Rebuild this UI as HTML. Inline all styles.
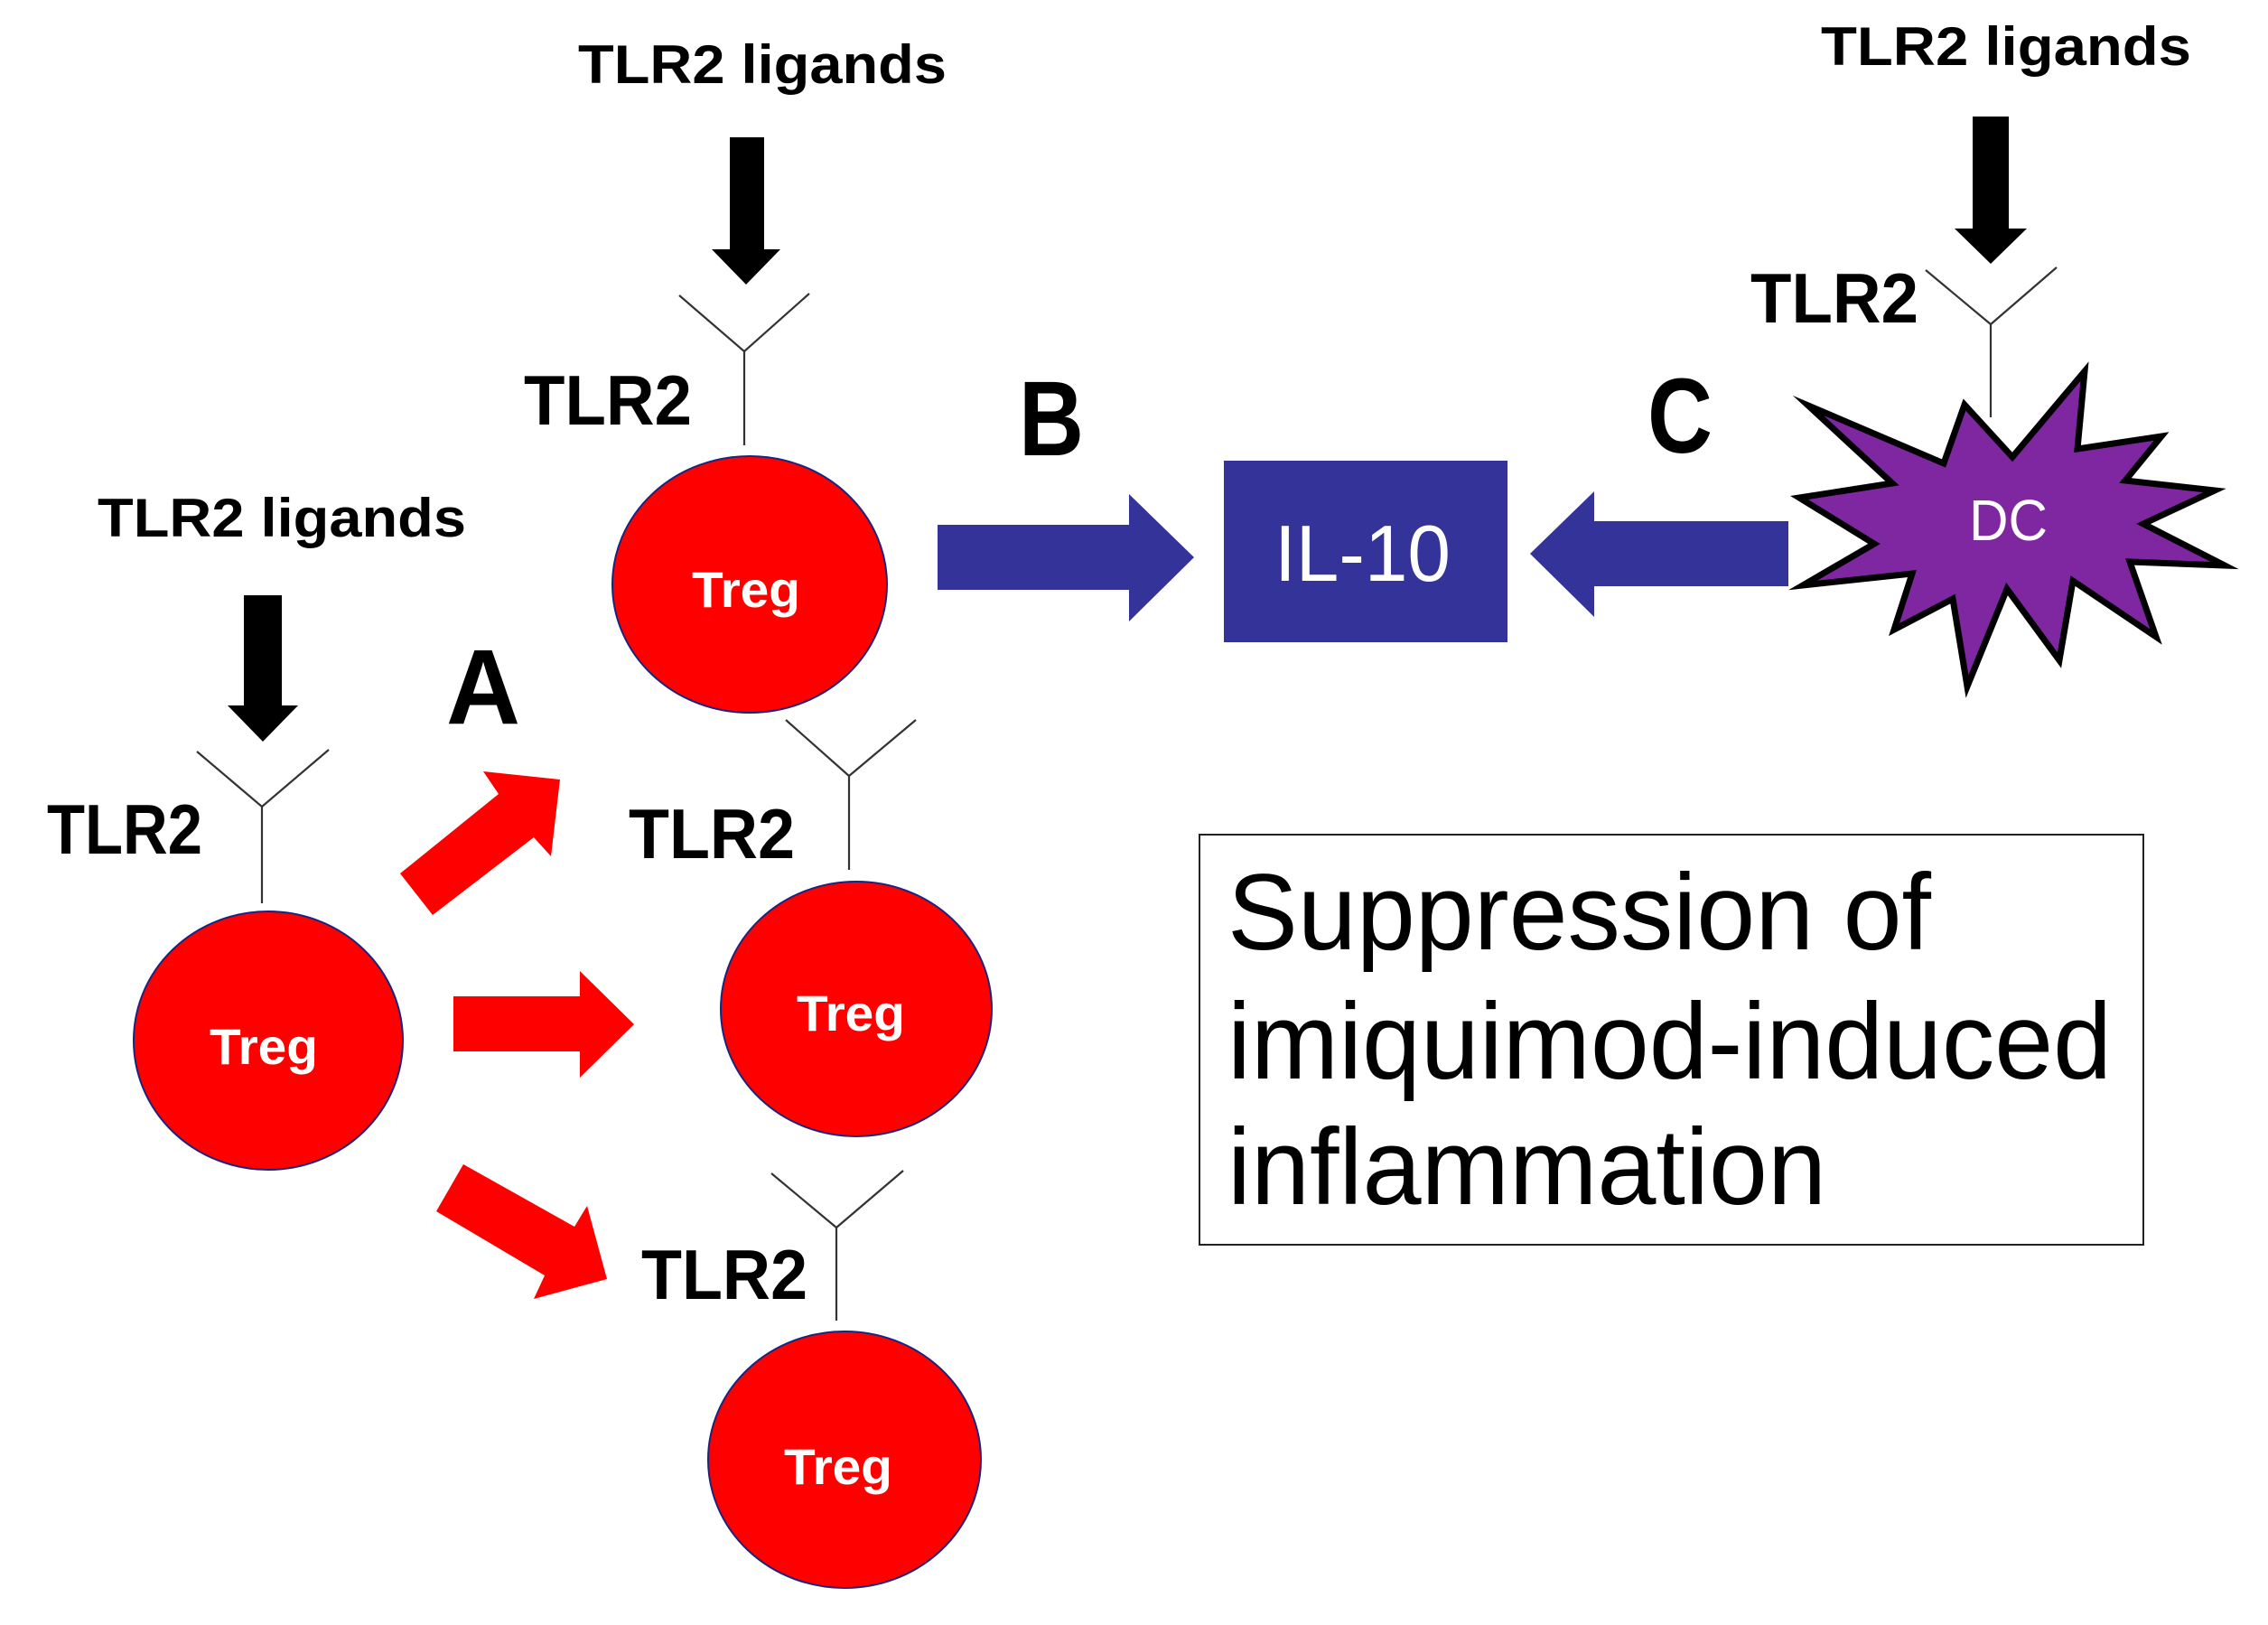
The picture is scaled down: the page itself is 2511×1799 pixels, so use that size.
<!DOCTYPE html>
<html><head><meta charset="utf-8"><style>
html,body{margin:0;padding:0;background:#fff}
svg{display:block}
text{font-family:"Liberation Sans",Arial,sans-serif}
</style></head><body>
<svg width="2511" height="1799" viewBox="0 0 2511 1799" xmlns="http://www.w3.org/2000/svg">
<rect width="2511" height="1799" fill="#fff"/>

<g font-weight="bold" fill="#000">
<text x="640" y="92" font-size="60" textLength="408" lengthAdjust="spacingAndGlyphs">TLR2 ligands</text>
<text x="108" y="594" font-size="60" textLength="408" lengthAdjust="spacingAndGlyphs">TLR2 ligands</text>
<text x="2016" y="72" font-size="60" textLength="410" lengthAdjust="spacingAndGlyphs">TLR2 ligands</text>
<text x="580" y="470" font-size="78" textLength="186" lengthAdjust="spacingAndGlyphs">TLR2</text>
<text x="52" y="945" font-size="78" textLength="172" lengthAdjust="spacingAndGlyphs">TLR2</text>
<text x="696" y="950" font-size="78" textLength="184" lengthAdjust="spacingAndGlyphs">TLR2</text>
<text x="710" y="1438" font-size="78" textLength="184" lengthAdjust="spacingAndGlyphs">TLR2</text>
<text x="1938" y="357" font-size="78" textLength="186" lengthAdjust="spacingAndGlyphs">TLR2</text>
<text x="1128" y="504" font-size="118" textLength="72" lengthAdjust="spacingAndGlyphs">B</text>
<text x="494" y="801" font-size="118" textLength="82" lengthAdjust="spacingAndGlyphs">A</text>
<text x="1824" y="501" font-size="118" textLength="72" lengthAdjust="spacingAndGlyphs">C</text>
</g>

<g fill="#000">
<polygon points="808,152 846,152 846,276 864,276 826,315 788,276 808,276"/>
<polygon points="270,659 312,659 312,781 330,781 291,821 252,781 270,781"/>
<polygon points="2184,129 2224,129 2224,253 2244,253 2204,292 2164,253 2184,253"/>
</g>

<g stroke="#333" stroke-width="2.2" fill="none">
<polyline points="752,327 824,389 896,325"/><line x1="824" y1="389" x2="824" y2="493"/>
<polyline points="218,832 290,893 364,830"/><line x1="290" y1="893" x2="290" y2="1000"/>
<polyline points="870,797 940,859 1014,797"/><line x1="940" y1="859" x2="940" y2="963"/>
<polyline points="854,1299 926,1359 1000,1296"/><line x1="926" y1="1359" x2="926" y2="1462"/>
<polyline points="2132,299 2204,359 2277,296"/><line x1="2204" y1="359" x2="2204" y2="462"/>
</g>

<g fill="#ff0000" stroke="#1a237e" stroke-width="2">
<ellipse cx="830" cy="647" rx="152" ry="142"/>
<ellipse cx="297" cy="1152" rx="149" ry="143"/>
<ellipse cx="948" cy="1117" rx="150" ry="141"/>
<ellipse cx="935" cy="1616" rx="151" ry="142"/>
</g>
<g fill="#fff" font-weight="bold" font-size="56" text-anchor="middle">
<text x="826" y="672" textLength="120" lengthAdjust="spacingAndGlyphs">Treg</text>
<text x="292" y="1178" textLength="120" lengthAdjust="spacingAndGlyphs">Treg</text>
<text x="942" y="1141" textLength="120" lengthAdjust="spacingAndGlyphs">Treg</text>
<text x="928" y="1643" textLength="120" lengthAdjust="spacingAndGlyphs">Treg</text>
</g>

<g fill="#ff0000">
<polygon points="443,967 552,879 535,854 620,863 610,948 591,927 479,1013"/>
<polygon points="502,1103 642,1103 642,1075 702,1134 642,1193 642,1164 502,1164"/>
<polygon points="513,1289 636,1358 650,1335 672,1416 591,1438 603,1412 483,1341"/>
</g>

<g fill="#333399">
<polygon points="1038,581 1250,581 1250,547 1322,617 1250,688 1250,653 1038,653"/>
<polygon points="1980,577 1765,577 1765,544 1694,613 1765,683 1765,649 1980,649"/>
<rect x="1355" y="510" width="314" height="201"/>
</g>
<text x="1411" y="643" font-size="88" fill="#fff" textLength="195" lengthAdjust="spacingAndGlyphs">IL-10</text>

<polygon fill="#7f27a0" stroke="#000" stroke-width="7" stroke-linejoin="miter" stroke-miterlimit="20"
points="2002,449 2152,513 2175,448 2228,506 2308,411 2300,497 2393,483 2353,532 2452,543 2373,580 2463,626 2358,622 2387,705 2295,643 2280,731 2222,652 2178,760 2162,663 2097,697 2117,635 1996,648 2075,602 1992,551 2095,535"/>
<text x="2180" y="598" font-size="64" fill="#fff" textLength="87" lengthAdjust="spacingAndGlyphs">DC</text>

<rect x="1328" y="924" width="1045" height="454" fill="none" stroke="#222" stroke-width="2"/>
<g font-size="120" fill="#000">
<text x="1359" y="1051" textLength="779" lengthAdjust="spacingAndGlyphs">Suppression of</text>
<text x="1359" y="1194" textLength="979" lengthAdjust="spacingAndGlyphs">imiquimod-induced</text>
<text x="1359" y="1333" textLength="663" lengthAdjust="spacingAndGlyphs">inflammation</text>
</g>
</svg>
</body></html>
